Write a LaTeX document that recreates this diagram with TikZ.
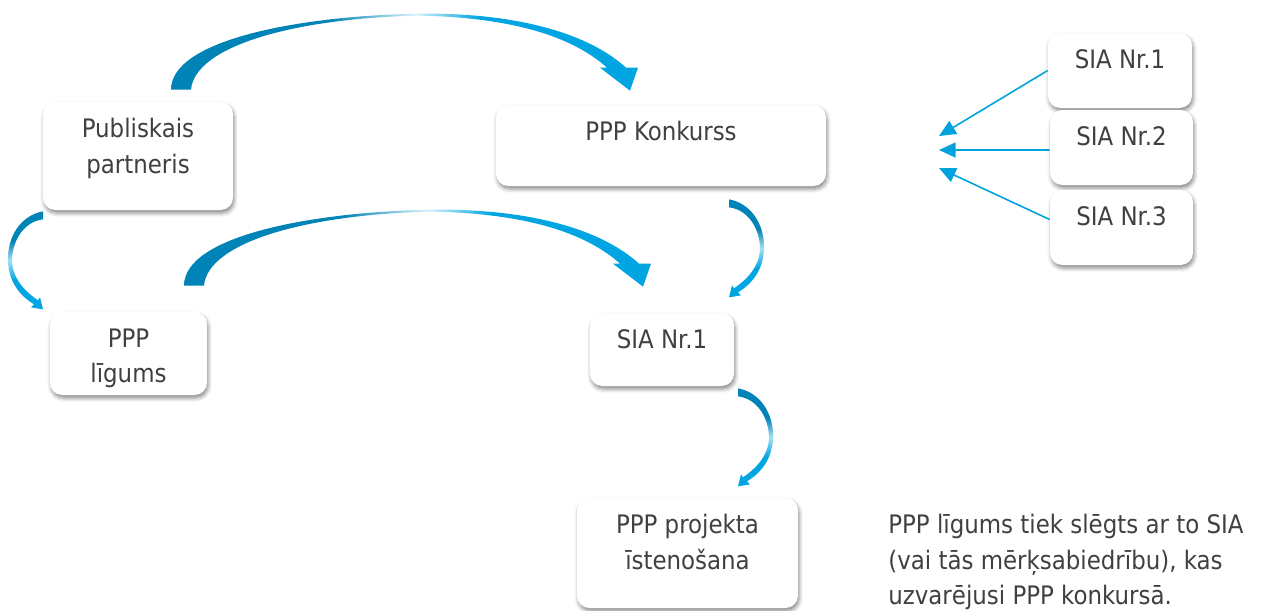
\documentclass[tikz,border=0pt]{standalone}
\usepackage{fontspec}
\setmainfont{DejaVu Sans Condensed}
\usetikzlibrary{arrows.meta,shadows.blur}
\definecolor{arcdark}{HTML}{0083B6}
\definecolor{arclight}{HTML}{00A5E1}
\definecolor{linkblue}{HTML}{00A2DE}
\definecolor{textgray}{HTML}{404040}

\pgfdeclarehorizontalshading{arcfade}{100bp}{color(0bp)=(arcdark); color(42bp)=(arcdark);
  color(51bp)=(arclight!15); color(58bp)=(arclight); color(100bp)=(arclight)}
\pgfdeclareverticalshading{sidefade}{100bp}{color(0bp)=(arclight); color(40bp)=(arclight);
  color(50bp)=(arclight!35); color(60bp)=(arcdark); color(100bp)=(arcdark)}

\tikzset{
  box/.style={fill=white, rounded corners=7pt, inner sep=0pt,
    blur shadow={shadow xshift=0.7pt, shadow yshift=-1.8pt,
      shadow blur radius=2.2pt, shadow opacity=45}},
  boxtext/.style={anchor=north, yshift=-0.33cm, align=center,
    inner sep=0pt, text=textgray},
  pointer/.style={draw=linkblue, line width=0.9pt,
    -{Triangle[length=9.5pt,width=8.5pt]}},
  % wide arc over the top, origin at the left foot
  bigarc/.pic={
    \shade[shading=arcfade]
      (0,0) .. controls (0,-50) and (129,-74) .. (249,-76)
      .. controls (349,-77) and (419,-55) .. (455,-22)
      -- (467,-22) -- (459,1) -- (429,-22) -- (436,-22)
      .. controls (405,-50) and (349,-72) .. (249,-74)
      .. controls (129,-72) and (24,-45) .. (20,0) -- cycle;
  },
  % small arc on the side, origin at the thick end
  sidearc/.pic={
    \shade[shading=sidefade]
      (0,0) .. controls (22,4) and (36,25) .. (35,50)
      .. controls (34,72) and (22,85) .. (9,93)
      -- (12,96) -- (0,98) -- (3,86) -- (5,89)
      .. controls (18,80) and (30,68) .. (31,50)
      .. controls (31,28) and (18,10) .. (0,8) -- cycle;
  }
}

\begin{document}
\begin{tikzpicture}[x=0.02cm, y=-0.02cm, font=\fontsize{14.5}{20.2}\selectfont]
  \useasboundingbox (0,0) rectangle (1268,610);

  \node[box, minimum width=3.8cm, minimum height=2.16cm,
    label={[boxtext]north:Publiskais\\partneris}] (pub) at (138,156) {};
  \node[box, minimum width=6.6cm, minimum height=1.62cm,
    label={[boxtext]north:PPP Konkurss}] (konk) at (661,145.5) {};
  \node[box, minimum width=3.14cm, minimum height=1.66cm,
    label={[boxtext]north:PPP\\līgums}] (lig) at (128.5,353.5) {};
  \node[box, minimum width=2.88cm, minimum height=1.46cm,
    label={[boxtext]north:SIA Nr.1}] (sia) at (662,349.5) {};
  \node[box, minimum width=4.42cm, minimum height=2.2cm,
    label={[boxtext]north:PPP projekta\\īstenošana}] (ist) at (687.5,553) {};

  \node[box, minimum width=2.88cm, minimum height=1.5cm,
    label={[boxtext]north:SIA Nr.1}] (s1) at (1120,70.5) {};
  \node[box, minimum width=2.86cm, minimum height=1.5cm,
    label={[boxtext]north:SIA Nr.2}] (s2) at (1121.5,147.5) {};
  \node[box, minimum width=2.86cm, minimum height=1.5cm,
    label={[boxtext]north:SIA Nr.3}] (s3) at (1121.5,227.5) {};

  \node[anchor=north west, align=left, inner sep=0pt, text=textgray] (note)
    at (888,514) {PPP līgums tiek slēgts ar to SIA\\(vai tās mērķsabiedrību), kas\\uzvarējusi PPP konkursā.};

  % curved arrows
  \pic at ([shift={(33,-12)}]pub.north) {bigarc};
  \pic at ([shift={(55.5,-26)}]lig.north) {bigarc};
  \pic[xscale=-1] at ([shift={(-95,1)}]pub.south) {sidearc};
  \pic at ([shift={(68,13)}]konk.south) {sidearc};
  \pic at ([shift={(76,2)}]sia.south) {sidearc};

  % bidders
  \coordinate (t1) at (939,136);
  \coordinate (t2) at (939,150);
  \coordinate (t3) at (939,168);
  \draw[pointer] (s1.west) -- (t1);
  \draw[pointer] ([yshift=-0.05cm]s2.west) -- (t2);
  \draw[pointer] ([yshift=0.16cm]s3.west) -- (t3);
\end{tikzpicture}
\end{document}
